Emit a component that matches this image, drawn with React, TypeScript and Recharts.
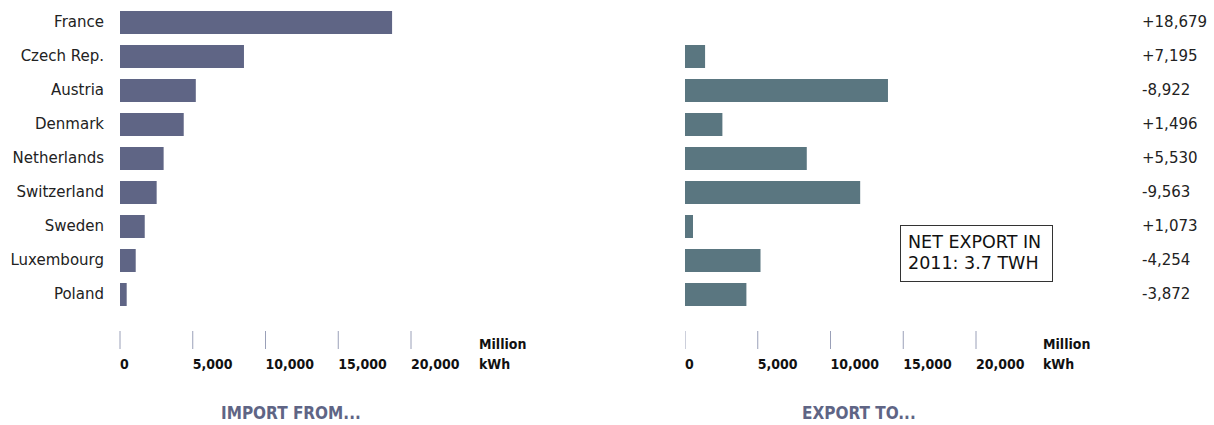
import { Bar, BarChart, XAxis, YAxis } from 'recharts';

const countries = ['France', 'Czech Rep.', 'Austria', 'Denmark', 'Netherlands', 'Switzerland', 'Sweden', 'Luxembourg', 'Poland'];
const importFrom = [18700, 8520, 5210, 4380, 3000, 2520, 1700, 1080, 460];
const exportTo = [0, 1380, 13950, 2570, 8370, 12040, 550, 5190, 4220];
const netLabels = ['+18,679', '+7,195', '-8,922', '+1,496', '+5,530', '-9,563', '+1,073', '-4,254', '-3,872'];
const axisTicks = [0, 5000, 10000, 15000, 20000];

const importData = countries.map((name, i) => ({ name, value: importFrom[i] }));
const exportData = countries.map((name, i) => ({ name, value: exportTo[i] }));

const labelFont = "'DejaVu Sans', sans-serif";
const boldFont = "'DejaVu Sans Condensed', 'DejaVu Sans', sans-serif";
const fmt = (v: number) => v.toLocaleString('en-US');

function AxisTick({ x, y, payload }: any) {
  return (
    <g>
      <line x1={x} x2={x} y1={y + 20} y2={y + 38} stroke="#9aa0b8" strokeWidth={1} />
      <text x={x} y={y + 58} textAnchor="start" fontFamily={boldFont} fontStretch="condensed" fontWeight="bold" fontSize={14} fill="#111">
        {fmt(payload.value)}
      </text>
    </g>
  );
}

function Unit({ x }: { x: number }) {
  return (
    <text x={x} fontFamily={boldFont} fontStretch="condensed" fontWeight="bold" fontSize={14} fill="#111">
      <tspan x={x} y={349}>Million</tspan>
      <tspan x={x} y={369}>kWh</tspan>
    </text>
  );
}

export default function App() {
  return (
    <div style={{ position: 'absolute', left: 0, top: 0, width: 1214, height: 425, background: '#fff', overflow: 'hidden' }}>
      <div style={{ position: 'absolute', left: 0, top: 0 }}>
        <BarChart width={560} height={425} data={importData} layout="vertical" margin={{ top: 5, right: 149, left: 0, bottom: 0 }}>
          <XAxis type="number" domain={[0, 20000]} ticks={axisTicks} interval={0} height={114} axisLine={false} tickLine={false} tickSize={0} tickMargin={0} tick={<AxisTick />} />
          <YAxis type="category" dataKey="name" width={120} interval={0} axisLine={false} tickLine={false} tickSize={0} tickMargin={16}
            tick={{ fontFamily: labelFont, fontSize: 15, fill: '#222' }} />
          <Bar dataKey="value" fill="#5f6585" barSize={23} isAnimationActive={false} />
        </BarChart>
      </div>
      <div style={{ position: 'absolute', left: 685, top: 0 }}>
        <BarChart width={529} height={425} data={exportData} layout="vertical" margin={{ top: 5, right: 0, left: 0, bottom: 0 }}>
          <XAxis type="number" domain={[0, 20000]} ticks={axisTicks} interval={0} height={114} axisLine={false} tickLine={false} tickSize={0} tickMargin={0} tick={<AxisTick />} />
          <YAxis type="category" dataKey="name" orientation="right" width={238} interval={0} axisLine={false} tickLine={false} tickSize={0} tickMargin={166}
            tickFormatter={(_v: string, i: number) => netLabels[i]}
            tick={{ fontFamily: labelFont, fontSize: 15, fill: '#222' }} />
          <Bar dataKey="value" fill="#5a7680" barSize={23} isAnimationActive={false} />
        </BarChart>
      </div>
      <svg width={1214} height={425} style={{ position: 'absolute', left: 0, top: 0, pointerEvents: 'none' }}>
        <Unit x={479} />
        <Unit x={1043} />
        <text x={221} y={419} fontFamily={boldFont} fontStretch="condensed" fontWeight="bold" fontSize={17} fill="#5f6585">IMPORT FROM...</text>
        <text x={802} y={419} fontFamily={boldFont} fontStretch="condensed" fontWeight="bold" fontSize={17} fill="#5f6585">EXPORT TO...</text>
        <rect x={900.5} y={225.5} width={152} height={56} fill="#fff" stroke="#333" strokeWidth={1} />
        <text fontFamily={labelFont} fontSize={17.5} fill="#111">
          <tspan x={908} y={248}>NET EXPORT IN</tspan>
          <tspan x={908} y={269}>2011: 3.7 TWH</tspan>
        </text>
      </svg>
    </div>
  );
}
